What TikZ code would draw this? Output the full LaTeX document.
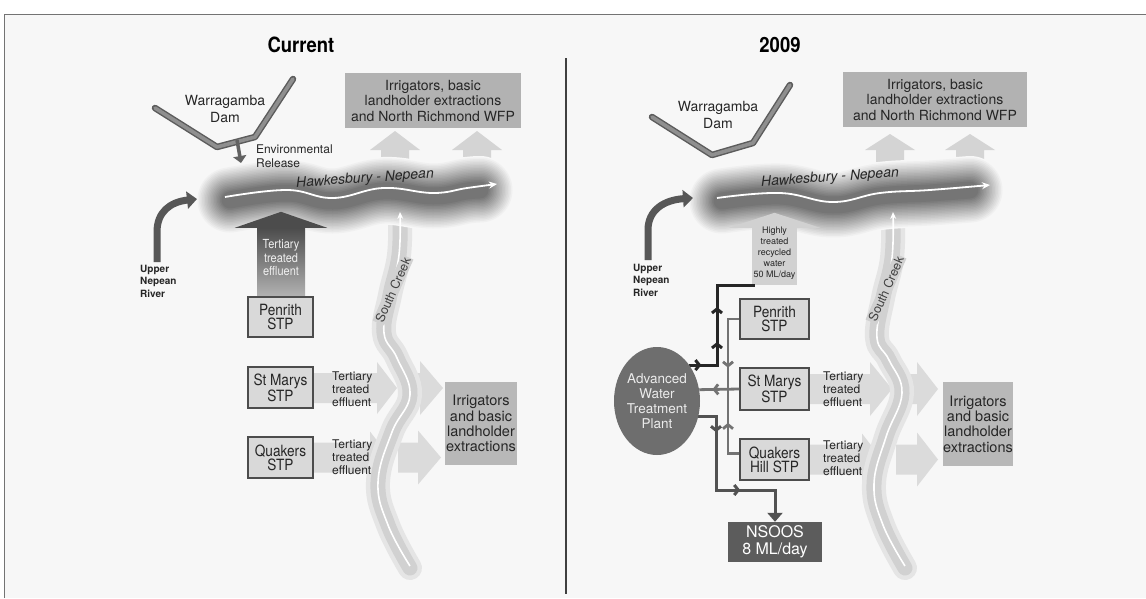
\documentclass[tikz,border=0pt]{standalone}
\usepackage{fontspec}
\setmainfont{TeX Gyre Heros}
\newfontfamily\condfont{TeX Gyre Heros}[FakeStretch=0.88]
\usetikzlibrary{arrows.meta,shapes.geometric,decorations.markings}
\newcommand\effarrow[6]{\fill[effcol] (#1,{#4-#5}) -- (#2,{#4-#5}) -- (#2,{#4-#6}) -- (#3,#4) -- (#2,{#4+#6}) -- (#2,{#4+#5}) -- (#1,{#4+#5}) -- cycle;}
\newcommand\uparr[2]{\fill[upcol] ({#1-14},176) -- ({#1-14},150) -- ({#1-25},150) -- (#1,#2) -- ({#1+25},150) -- ({#1+14},150) -- ({#1+14},176) -- cycle;}
\newcommand\riverband[1]{\foreach \i [evaluate=\i as \w using 68-3*\i, evaluate=\i as \c using 3+3*\i] in {0,...,17}{\draw[line width=\w pt, line cap=round, line join=round, black!\c] plot[smooth, tension=0.7] coordinates {#1};}}
\newcommand\creekband[1]{\draw[line width=24pt, black!10, line cap=round] plot[smooth, tension=0.7] coordinates {#1};
\draw[line width=15pt, black!18, line cap=round] plot[smooth, tension=0.7] coordinates {#1};}
\begin{document}
\begin{tikzpicture}[x=1pt,y=-1pt,
  effcol/.style={fill=black!14},
  upcol/.style={fill=black!17},
  lbl/.style={inner sep=0pt, align=center, text=black!85},
  title/.style={inner sep=0pt, font=\condfont\bfseries\fontsize{21}{24}\selectfont, text=black},
  damtxt/.style={lbl, font=\fontsize{14}{16.5}\selectfont},
  envtxt/.style={lbl, align=left, font=\fontsize{12}{14}\selectfont},
  nepeantxt/.style={lbl, align=left, font=\bfseries\fontsize{10}{12.5}\selectfont},
  ttetxt/.style={lbl, align=left, font=\fontsize{12}{13}\selectfont},
  rivtxt/.style={lbl, font=\itshape\fontsize{14}{16}\selectfont, text=black!85},
  sctxt/.style={inner sep=1.5pt, fill=black!18, font=\fontsize{12.5}{14}\selectfont, text=black!75},
  stpbox/.style={draw=black!70, line width=1.2pt, fill=black!15, minimum width=65pt, minimum height=40pt, inner sep=0pt, align=center, font=\condfont\fontsize{15.5}{14}\selectfont, text=black!85},
  irrbox/.style={fill=black!30, inner sep=0pt, align=center, font=\fontsize{14}{15.5}\selectfont, text=black!85},
  irrbox2/.style={fill=black!28, inner sep=0pt, align=center, font=\fontsize{14.5}{15.3}\selectfont, text=black!85},
  damline/.style={line width=6.5pt, black!64, line join=round, line cap=round},
  damfill/.style={line width=3.6pt, black!44, line join=round, line cap=round},
  nepean/.style={line width=7pt, black!66, -{Triangle[length=10pt,width=17pt]}},
  pipedark/.style={line width=3pt, black!85},
  pipegray/.style={line width=2.8pt, black!55},
  pipemid/.style={line width=3pt, black!68},
  chev/.style={postaction={decorate}, decoration={markings, mark=at position #1 with {\arrow{Straight Barb[length=4pt,width=10pt]}}}},
  chevtwo/.style 2 args={postaction={decorate}, decoration={markings, mark=at position #1 with {\arrow{Straight Barb[length=4pt,width=10pt]}}, mark=at position #2 with {\arrow{Straight Barb[length=4pt,width=10pt]}}}}
]
\useasboundingbox (0,0) rectangle (1146,598);
\fill[white] (0,0) rectangle (1146,598);
\fill[black!3] (4,14) rectangle (1146,598);
\draw[black!55, line width=1pt] (4,598) -- (4,14) -- (1146,14);
\draw[black!75, line width=1.2pt] (566,58) -- (566,594);

% titles
\node[title] (t1) at (301,45) {Current};
\node[title] (t2) at (780,45) {2009};

% ================= LEFT PANEL =================
\effarrow{313}{377}{397}{388}{15}{26}
\effarrow{400}{420}{443}{388}{15}{27}
\effarrow{313}{370}{390}{457.5}{15}{26}
\effarrow{398}{418}{441}{457.5}{15}{27}
\uparr{395}{131}
\uparr{477}{131}
\creekband{(410,568) (388,525) (378,482) (392,432) (410,395) (397,358) (384,333) (390,295) (399,255) (400,212)}
\riverband{(230,200) (287,193) (333,201) (383,191) (433,196) (467,191) (480,190)}
\draw[white, line width=1.6pt, -{Stealth[length=7pt,width=6pt]}] plot[smooth, tension=0.7] coordinates {(410,566) (388,525) (378,482) (392,432) (410,395) (397,358) (384,333) (390,295) (399,255) (400,212)};
\draw[white, line width=1.8pt, -{Stealth[length=8pt,width=7pt]}] plot[smooth, tension=0.7] coordinates {(225,197) (287,190) (333,198) (383,188) (433,193) (467,188) (497,184)};
\node[rivtxt, rotate=4] (hn1) at (365,179) {Hawkesbury - Nepean};
\node[sctxt, rotate=66] (sc1) at (393,290) {South Creek};

% dam
\coordinate (d1a) at (155,108); \coordinate (d1b) at (217,147); \coordinate (d1c) at (255,137); \coordinate (d1d) at (293,79);
\draw[damline] (d1a) -- (d1b) -- (d1c) -- (d1d);
\draw[damfill] (d1a) -- (d1b) -- (d1c) -- (d1d);
\node[damtxt] (dam1) at (225,109) {Warragamba\\Dam};
\coordinate (er1a) at (237,140); \coordinate (er1b) at (241,163);
\draw[line width=3.5pt, black!62, -{Triangle[length=7pt,width=13pt]}] (er1a) -- (er1b);
\node[envtxt, anchor=west] (env1) at (256,156) {Environmental\\Release};

\node[irrbox, minimum width=176pt, minimum height=55pt] (irr1) at (433,100.5) {Irrigators, basic\\landholder extractions\\and North Richmond WFP};

\coordinate (un1a) at (157,262); \coordinate (un1b) at (157,232); \coordinate (un1c) at (197,199);
\draw[nepean] (un1a) -- (un1b) .. controls (157,212) and (170,202) .. (un1c);
\node[nepeantxt, anchor=west] (unl1) at (140,281) {Upper\\Nepean\\River};

\node[minimum width=48pt, minimum height=69pt, inner sep=0pt, top color=black!70, bottom color=black!30] (ts1) at (281,262.5) {};
\fill[black!70] ([xshift=-22pt]ts1.north west) -- ([xshift=22pt]ts1.north east) -- ([yshift=16pt]ts1.north) -- cycle;
\node[lbl, text=black!6, font=\condfont\fontsize{12.5}{13.5}\selectfont] (ts1t) at (281,258) {Tertiary\\treated\\effluent};

\node[stpbox] (pen1) at (280.5,317) {Penrith\\STP};
\node[stpbox, minimum height=41pt] (sm1) at (280.5,387.5) {St Marys\\STP};
\node[stpbox, minimum height=41pt] (qk1) at (280.5,457.5) {Quakers\\STP};
\node[ttetxt, anchor=west] (te1) at (332,389) {Tertiary\\treated\\effluent};
\node[ttetxt, anchor=west] (te2) at (332,457.5) {Tertiary\\treated\\effluent};
\node[irrbox2, minimum width=72pt, minimum height=83pt] (irr2) at (481,423.5) {Irrigators\\and basic\\landholder\\extractions};

% ================= RIGHT PANEL =================
\effarrow{809}{870}{892}{389}{15}{27}
\effarrow{896}{917}{938}{389}{15}{27}
\effarrow{809}{862}{882}{459.5}{15}{26}
\effarrow{896}{917}{938}{459.5}{15}{27}
\uparr{890}{134}
\uparr{970}{134}
\creekband{(905,568) (883,525) (874,484) (886,437) (902,393) (889,360) (877,338) (883,298) (892,258) (893,212)}
\riverband{(722,201) (780,196) (833,205) (880,196) (930,193) (970,190)}
\draw[white, line width=1.6pt, -{Stealth[length=7pt,width=6pt]}] plot[smooth, tension=0.7] coordinates {(905,566) (883,525) (874,484) (886,437) (902,393) (889,360) (877,338) (883,298) (892,258) (893,212)};
\draw[white, line width=1.8pt, -{Stealth[length=8pt,width=7pt]}] plot[smooth, tension=0.7] coordinates {(717,198) (780,193) (833,202) (880,193) (930,190) (990,185)};
\node[rivtxt, rotate=4] (hn2) at (830,178) {Hawkesbury - Nepean};
\node[sctxt, rotate=66] (sc2) at (886,289) {South Creek};

\coordinate (d2a) at (652,117); \coordinate (d2b) at (712,155); \coordinate (d2c) at (753,143); \coordinate (d2d) at (790,85);
\draw[damline] (d2a) -- (d2b) -- (d2c) -- (d2d);
\draw[damfill] (d2a) -- (d2b) -- (d2c) -- (d2d);
\node[damtxt] (dam2) at (718,115) {Warragamba\\Dam};

\node[irrbox, minimum width=184pt, minimum height=55pt] (irr3) at (935,99.5) {Irrigators, basic\\landholder extractions\\and North Richmond WFP};

\coordinate (un2a) at (648,260); \coordinate (un2b) at (648,230); \coordinate (un2c) at (693,198);
\draw[nepean] (un2a) -- (un2b) .. controls (648,210) and (664,200) .. (un2c);
\node[nepeantxt, anchor=west] (unl2) at (633,280) {Upper\\Nepean\\River};

\node[minimum width=45pt, minimum height=57pt, inner sep=0pt, fill=black!18] (hts) at (774.5,256.5) {};
\fill[black!18] ([xshift=-23pt]hts.north west) -- ([xshift=23pt]hts.north east) -- ([yshift=15pt]hts.north) -- cycle;
\node[lbl, font=\fontsize{9}{11}\selectfont] (htst) at (774.5,253) {Highly\\treated\\recycled\\water\\50 ML/day};

\node[stpbox, minimum width=69pt] (pen2) at (774.5,319) {Penrith\\STP};
\node[stpbox, minimum width=69pt, minimum height=42pt] (sm2) at (774.5,389) {St Marys\\STP};
\node[stpbox, minimum width=69pt, minimum height=41pt] (qh2) at (774.5,459.5) {Quakers\\Hill STP};
\node[ttetxt, anchor=west] (te3) at (823,389.5) {Tertiary\\treated\\effluent};
\node[ttetxt, anchor=west] (te4) at (823,458.5) {Tertiary\\treated\\effluent};
\node[irrbox2, minimum width=70pt, minimum height=84pt] (irr4) at (978,424) {Irrigators\\and basic\\landholder\\extractions};

\node[fill=black!64, minimum width=94pt, minimum height=40pt, inner sep=0pt, align=center, text=white, font=\fontsize{16}{17}\selectfont] (nsoos) at (775,542) {NSOOS\\8 ML/day};

\coordinate (colx) at (728,0);
\coordinate (dkx) at (717,0);
\coordinate (nsx) at (716,0);
\coordinate (nsy) at (0,490);
\node[ellipse, minimum width=86pt, minimum height=108pt, inner sep=0pt] (awtp) at (657,401) {};
\coordinate (qhp) at ([yshift=6pt]qh2.west);
\coordinate (htp) at ([xshift=3pt]hts.south west);
\draw[pipegray, chev=60pt] (pen2.west) -- (pen2.west -| colx) -- (colx |- sm2.west);
\draw[pipegray, chev=42pt] (qhp) -- (qhp -| colx) -- (colx |- sm2.west);
\draw[pipegray, chev=27pt] (sm2.west) -- (awtp.15);
\draw[pipedark, line join=miter] (awtp.48) -- (awtp.48 -| dkx) -- (dkx |- htp) -- (htp);
\draw[pipedark, chev=12pt] (awtp.48) -- (awtp.48 -| dkx);
\draw[pipedark, chevtwo={23pt}{58pt}] (awtp.48 -| dkx) -- (dkx |- htp);
\draw[pipemid, chevtwo={33pt}{115pt}, -{Triangle[length=9pt,width=15pt]}] (awtp.-21) -- (awtp.-21 -| nsx) -- (nsx |- nsy) -- (nsoos.north |- nsy) -- (nsoos.north);
\node[ellipse, fill=black!57, minimum width=86pt, minimum height=108pt, inner sep=0pt] (awtpf) at (awtp.center) {};
\node[lbl, text=black!8, font=\fontsize{13.5}{15}\selectfont] (awtpt) at (awtpf.center) {Advanced\\Water\\Treatment\\Plant};
\end{tikzpicture}
\end{document}
